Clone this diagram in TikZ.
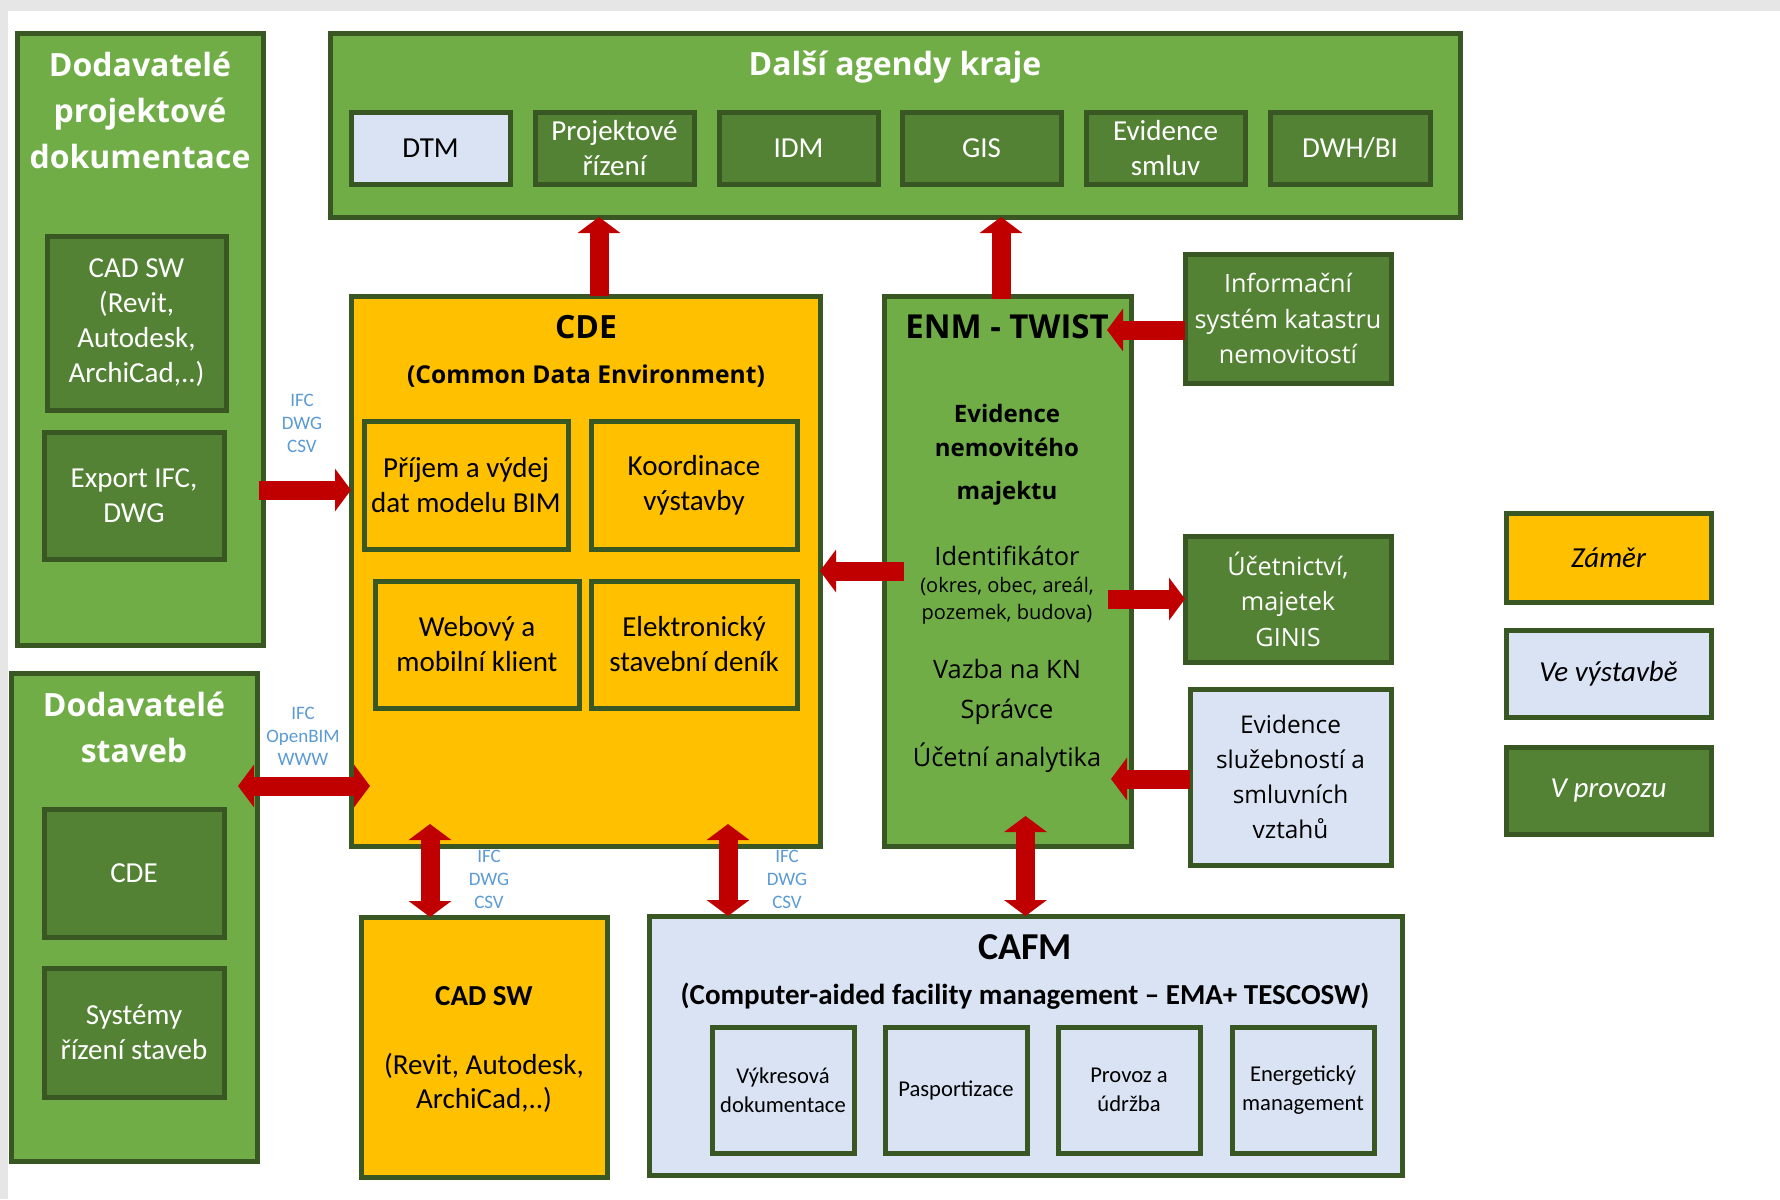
\documentclass[tikz,border=0pt]{standalone}
\usepackage{fontspec}
\setmainfont{Carlito}
\newfontfamily\seg{Open Sans}
\usetikzlibrary{arrows.meta,fit,calc}
\definecolor{lgreen}{HTML}{70AD47}
\definecolor{dgreen}{HTML}{548235}
\definecolor{bord}{HTML}{385723}
\definecolor{yel}{HTML}{FFC000}
\definecolor{lblue}{HTML}{DAE3F3}
\definecolor{arrred}{HTML}{C00000}
\definecolor{lab}{HTML}{5B9BD5}
\definecolor{bgg}{HTML}{E7E6E6}
\newcommand\fsz[2]{\fontsize{#1}{#2}\selectfont}
% box with centred text: style, name, x1, y1, x2, y2, text
\newcommand\bx[7]{\node[#1, fit={(#3,#4)(#5,#6)}] (#2) {};
  \node[#1, draw=none, fill=none] (#2t) at (#2.center) {#7};}
\begin{document}
\begin{tikzpicture}[x=0.5pt,y=-0.5pt,
  box/.style={draw=bord, line width=2.5pt, inner sep=0pt, outer sep=0pt, align=center},
  lgbox/.style={box, fill=lgreen},
  dgbox/.style={box, fill=dgreen, text=white},
  ylbox/.style={box, fill=yel, text=black},
  lbbox/.style={box, fill=lblue, text=black},
  cal/.style={font=\fsz{14.5}{17.5}, align=center},
  sm/.style={font=\fsz{11.3}{14.5}, align=center},
  ttl/.style={font=\seg\bfseries\fsz{16}{23}, text=white, align=center},
  segt/.style={font=\seg\fsz{12.6}{17.75}, align=center},
  leg/.style={font=\itshape\fsz{14.5}{17}},
  lbl/.style={font=\fsz{9.5}{11.5}, text=lab, align=center},
  tipx/.tip={Triangle[length=8pt,width=21pt]},
  arr/.style={draw=arrred, line width=9.5pt, -tipx},
  arrd/.style={draw=arrred, line width=9.5pt, tipx-tipx}
]
\useasboundingbox (0,0) rectangle (1780,1199);
\fill[bgg] (0,0) rectangle (1780,1199);
\fill[white] (8,11) rectangle (1780,1199);

% left: Dodavatele projektove dokumentace
\node[lgbox, fit={(17,33)(263,645)}] (l1) {};
\node[ttl] (l1t) at (140,110) {Dodavatelé\\projektové\\dokumentace};
\bx{dgbox,cal}{cad1}{47}{236}{226}{410}{CAD SW\\(Revit,\\Autodesk,\\ArchiCad,..)}
\bx{dgbox,cal}{exp}{44}{432}{224}{559}{Export IFC,\\DWG}

% left: Dodavatele staveb
\node[lgbox, fit={(11,673)(257,1161)}] (l2) {};
\node[ttl] (l2t) at (134,727) {Dodavatelé\\staveb};
\bx{dgbox,cal}{cde2}{44}{809}{224}{937}{CDE}
\bx{dgbox,cal}{sys}{44}{968}{224}{1097}{Systémy\\řízení staveb}

% top
\node[lgbox, fit={(330,33)(1460,217)}] (top) {};
\node[ttl] (topt) at (895,67) {Další agendy kraje};
\bx{lbbox,cal}{dtm}{351}{112}{510}{184}{DTM}
\bx{dgbox,cal}{proj}{535}{112}{694}{184}{Projektové\\řízení}
\bx{dgbox,cal}{idm}{719}{112}{878}{184}{IDM}
\bx{dgbox,cal}{gis}{902}{112}{1061}{184}{GIS}
\bx{dgbox,cal}{smluv}{1086}{112}{1245}{184}{Evidence\\smluv}
\bx{dgbox,cal}{dwh}{1270}{112}{1430}{184}{DWH/BI}

% CDE
\node[ylbox, fit={(351,296)(820,846)}] (cde) {};
\node[font=\seg\bfseries\fsz{16}{20}] (cdet) at (586,327) {CDE};
\node[font=\seg\bfseries\fsz{12.3}{15}] (cdes) at (586,376) {(Common Data Environment)};
\bx{ylbox,cal}{prij}{364}{421}{568}{549}{Příjem a výdej\\dat modelu BIM}
\bx{ylbox,cal}{koord}{591}{421}{797}{549}{Koordinace\\výstavby}
\bx{ylbox,cal}{web}{375}{581}{579}{708}{Webový a\\mobilní klient}
\bx{ylbox,cal}{den}{591}{581}{797}{708}{Elektronický\\stavební deník}

% ENM
\node[lgbox, fit={(884,296)(1131,846)}] (enm) {};
\node[font=\seg\bfseries\fsz{16.5}{20}] (enmt) at (1007,327) {ENM - TWIST};
\node[font=\seg\bfseries\fsz{12}{17}, align=center] (enm1) at (1007,430) {Evidence\\nemovitého};
\node[font=\seg\bfseries\fsz{12}{17}] (enm2) at (1007,493) {majektu};
\node[font=\seg\fsz{12.7}{16}] (enm3) at (1007,556) {Identifikátor};
\node[font=\seg\fsz{10}{13.5}, align=center] (enm4) at (1007,601) {(okres, obec, areál,\\pozemek, budova)};
\node[font=\seg\fsz{12.7}{20}, align=center] (enm5) at (1007,692) {Vazba na KN\\Správce};
\node[font=\seg\fsz{12.7}{16}] (enm6) at (1007,758) {Účetní analytika};

% right boxes
\bx{dgbox,segt}{info}{1185}{254}{1391}{383}{Informační\\systém katastru\\nemovitostí}
\bx{dgbox,segt}{ucet}{1185}{536}{1391}{662}{Účetnictví,\\majetek\\GINIS}
\bx{lbbox,font=\seg\fsz{12.2}{17.5}}{evid}{1190}{689}{1391}{865}{Evidence\\služebností a\\smluvních\\vztahů}

% legend
\bx{ylbox,leg}{lz}{1506}{513}{1711}{602}{Záměr}
\bx{lbbox,leg}{lv}{1506}{630}{1711}{717}{Ve výstavbě}
\bx{dgbox,leg}{lp}{1506}{747}{1711}{834}{V provozu}

% bottom CAD SW
\node[ylbox, fit={(361,917)(607,1177)}] (cadsw) {};
\node[font=\bfseries\fsz{14.5}{17}] (cadt) at (484,996) {CAD SW};
\node[cal, font=\fsz{14.5}{17}] (cads) at (484,1083) {(Revit, Autodesk,\\ArchiCad,..)};

% CAFM
\node[lbbox, fit={(649,916)(1402,1175)}] (cafm) {};
\node[font=\bfseries\fsz{19}{22}] (cafmt) at (1025,947) {CAFM};
\node[font=\bfseries\fsz{14.5}{17}] (cafms) at (1025,996) {(Computer-aided facility management – EMA+ TESCOSW)};
\bx{lbbox,sm}{vyk}{712}{1027}{854}{1153}{Výkresová\\dokumentace}
\bx{lbbox,sm}{pas}{885}{1027}{1027}{1153}{Pasportizace}
\bx{lbbox,sm}{prov}{1058}{1027}{1200}{1153}{Provoz a\\údržba}
\bx{lbbox,sm}{ener}{1232}{1027}{1374}{1153}{Energetický\\management}

% labels
\node[lbl] (lb1) at (302,423) {IFC\\DWG\\CSV};
\node[lbl] (lb2) at (303,736) {IFC\\OpenBIM\\WWW};
\node[lbl] (lb3) at (489,879) {IFC\\DWG\\CSV};
\node[lbl] (lb4) at (787,879) {IFC\\DWG\\CSV};

% arrows
\draw[arr] ($(cde.north)+(13.5,0)$) -- ($(cde.north |- top.south)+(13.5,0)$);
\draw[arr] ($(enm.north)+(-6.5,3)$) -- ($(enm.north |- top.south)+(-6.5,0)$);
\draw[arr] ($(info.west)+(0,11.5)$) -- ($(enm.east |- info.west)+(-24,11.5)$);
\draw[arr] ($(l1.east)+(-4,151)$) -- ($(cde.west |- l1.east)+(0,151)$);
\draw[arr] ($(enm.west)+(20,0)$) -- (cde.east);
\draw[arr] ($(enm.east |- ucet.west)+(-23,0)$) -- (ucet.west);
\draw[arr] ($(evid.west)+(0,2)$) -- ($(enm.east |- evid.west)+(-20,2)$);
\draw[arrd] ($(l2.east)+(-19,-131)$) -- ($(cde.west |- l2.east)+(19,-131)$);
\draw[arrd] ($(cde.south -| cadsw.north)+(-54,-22)$) -- ($(cadsw.north)+(-54,0)$);
\draw[arrd] ($(cde.south -| cafm.north)+(-297.5,-22)$) -- ($(cafm.north)+(-297.5,0)$);
\draw[arrd] ($(enm.south -| cafm.north)+(0,-30)$) -- (cafm.north);
\end{tikzpicture}
\end{document}
